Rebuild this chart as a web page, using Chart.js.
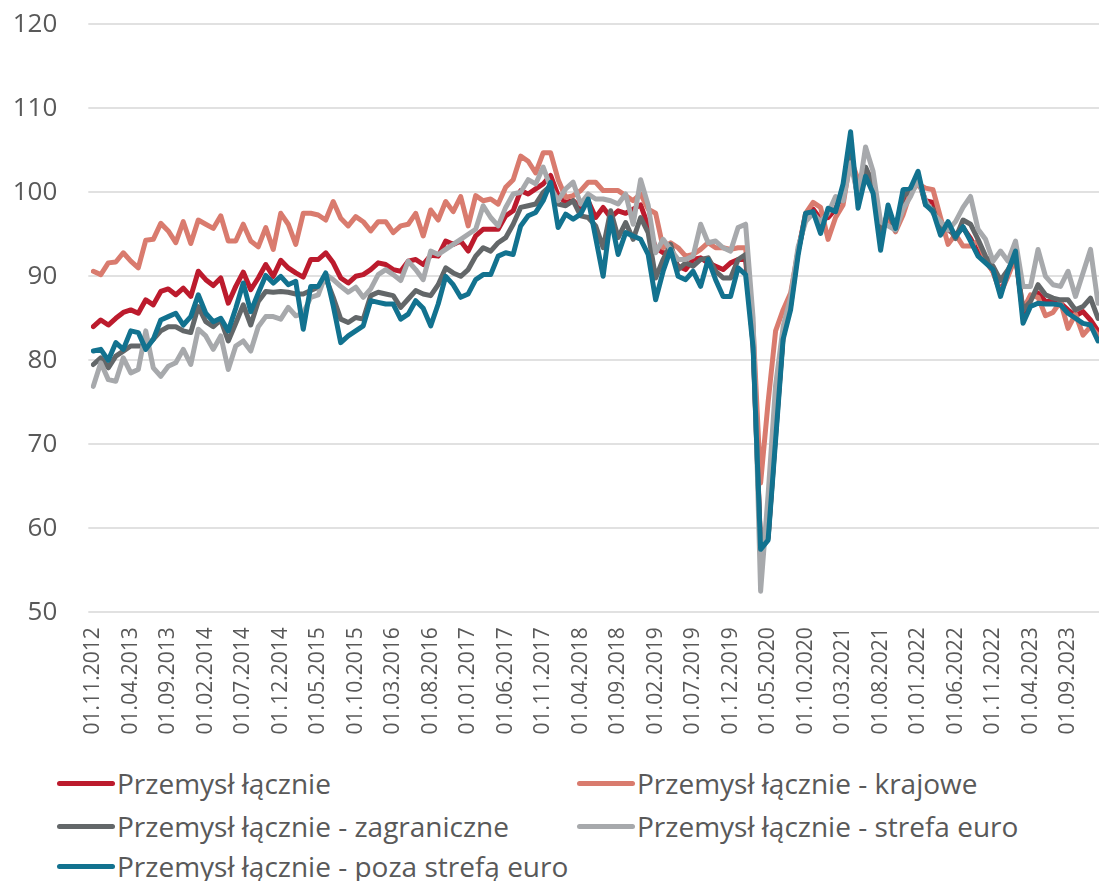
<!DOCTYPE html>
<html><head><meta charset="utf-8">
<script src="https://cdn.jsdelivr.net/npm/chart.js@4.4.1/dist/chart.umd.min.js"></script>
<style>
html,body{margin:0;padding:0;background:#fff;width:1099px;height:881px;overflow:hidden;}
#wrap{position:absolute;left:0;top:0;width:1099px;height:760px;}
#legend{position:absolute;left:0;top:760px;width:1099px;height:121px;font-family:"Open Sans",sans-serif;font-size:28px;color:#595959;}
.li{position:absolute;display:flex;align-items:center;white-space:nowrap;}
.mk{display:inline-block;width:58px;height:5px;border-radius:3px;margin-right:2px;}
</style></head>
<body>
<div id="wrap"><canvas id="c"></canvas></div>
<div id="legend"></div>
<script>
const categories = [
"01.11.2012","01.12.2012",
"01.01.2013","01.02.2013","01.03.2013","01.04.2013","01.05.2013","01.06.2013","01.07.2013","01.08.2013","01.09.2013","01.10.2013","01.11.2013","01.12.2013",
"01.01.2014","01.02.2014","01.03.2014","01.04.2014","01.05.2014","01.06.2014","01.07.2014","01.08.2014","01.09.2014","01.10.2014","01.11.2014","01.12.2014",
"01.01.2015","01.02.2015","01.03.2015","01.04.2015","01.05.2015","01.06.2015","01.07.2015","01.08.2015","01.09.2015","01.10.2015","01.11.2015","01.12.2015",
"01.01.2016","01.02.2016","01.03.2016","01.04.2016","01.05.2016","01.06.2016","01.07.2016","01.08.2016","01.09.2016","01.10.2016","01.11.2016","01.12.2016",
"01.01.2017","01.02.2017","01.03.2017","01.04.2017","01.05.2017","01.06.2017","01.07.2017","01.08.2017","01.09.2017","01.10.2017","01.11.2017","01.12.2017",
"01.01.2018","01.02.2018","01.03.2018","01.04.2018","01.05.2018","01.06.2018","01.07.2018","01.08.2018","01.09.2018","01.10.2018","01.11.2018","01.12.2018",
"01.01.2019","01.02.2019","01.03.2019","01.04.2019","01.05.2019","01.06.2019","01.07.2019","01.08.2019","01.09.2019","01.10.2019","01.11.2019","01.12.2019",
"01.01.2020","01.02.2020","01.03.2020","01.04.2020","01.05.2020","01.06.2020","01.07.2020","01.08.2020","01.09.2020","01.10.2020","01.11.2020","01.12.2020",
"01.01.2021","01.02.2021","01.03.2021","01.04.2021","01.05.2021","01.06.2021","01.07.2021","01.08.2021","01.09.2021","01.10.2021","01.11.2021","01.12.2021",
"01.01.2022","01.02.2022","01.03.2022","01.04.2022","01.05.2022","01.06.2022","01.07.2022","01.08.2022","01.09.2022","01.10.2022","01.11.2022","01.12.2022",
"01.01.2023","01.02.2023","01.03.2023","01.04.2023","01.05.2023","01.06.2023","01.07.2023","01.08.2023","01.09.2023","01.10.2023","01.11.2023","01.12.2023",
"01.01.2024"];

const przemyslLacznie = [
84.0,84.8,84.2,85.0,85.7,86.0,85.6,87.2,86.6,88.2,88.5,87.8,88.6,87.6,90.6,89.6,88.9,89.8,86.8,88.8,
90.5,88.4,89.8,91.4,90.0,91.9,91.0,90.4,89.9,92.0,92.0,92.8,91.6,89.8,89.2,90.0,90.2,90.8,91.6,91.4,
90.8,90.6,91.8,92.0,91.4,92.5,92.4,94.2,93.8,94.2,93.0,94.8,95.6,95.6,95.6,97.2,97.8,100.2,99.8,100.4,
101.0,102.0,99.6,98.8,99.0,98.2,99.0,97.0,98.2,97.0,97.8,97.5,98.0,98.5,96.0,93.4,92.8,92.8,91.2,90.8,
92.0,92.2,91.6,91.2,90.8,91.6,92.0,92.0,82.0,57.8,59.0,71.5,83.0,87.0,93.0,97.3,98.0,96.8,97.0,98.0,
100.0,104.5,99.5,102.5,100.8,95.0,97.5,95.8,99.0,100.5,101.5,99.0,98.8,96.5,95.5,95.0,95.8,94.5,92.8,91.8,
90.6,88.2,90.2,92.5,85.5,87.5,88.0,87.0,87.0,86.8,86.0,85.3,85.8,84.8,83.5];

const krajowe = [
90.6,90.2,91.6,91.7,92.8,91.8,91.0,94.3,94.4,96.3,95.4,94.0,96.5,93.9,96.7,96.2,95.7,97.2,94.2,94.2,
96.2,94.2,93.5,95.8,93.2,97.5,96.2,93.8,97.5,97.5,97.3,96.7,98.9,96.9,96.0,97.1,96.5,95.4,96.5,96.5,
95.2,96.0,96.2,97.5,94.8,97.9,96.7,98.9,97.7,99.5,96.0,99.6,99.0,99.2,98.6,100.6,101.5,104.3,103.7,102.3,
104.7,104.7,101.5,99.4,99.6,100.2,101.2,101.2,100.2,100.2,100.2,99.6,99.0,99.8,98.0,97.5,93.4,94.0,93.4,92.4,
92.6,93.2,94.0,93.4,93.4,93.2,93.4,93.4,84.0,65.4,75.0,83.5,86.0,88.0,93.0,97.5,98.8,98.2,94.4,97.0,
98.5,104.0,101.5,102.5,101.8,95.5,97.0,95.3,97.3,100.0,101.0,100.5,100.3,97.0,93.8,95.0,93.6,93.6,94.2,92.0,
90.5,88.0,90.0,92.3,86.0,87.8,87.5,85.3,85.7,87.0,83.8,85.5,83.0,84.0,83.0];

const zagraniczne = [
79.5,80.3,79.1,80.5,81.1,81.7,81.7,81.7,82.5,83.5,84.0,84.0,83.5,83.3,86.4,84.6,84.0,84.8,82.3,84.4,
86.6,84.2,87.0,88.2,88.1,88.2,88.1,87.9,87.9,88.3,88.7,89.8,87.5,84.9,84.5,85.1,84.9,87.7,88.1,87.9,
87.7,86.3,87.3,88.3,87.9,87.7,89.0,91.0,90.4,90.0,90.8,92.4,93.4,93.0,94.0,94.6,96.2,98.2,98.4,98.6,
100.0,100.8,98.6,98.4,99.0,97.2,97.0,96.0,93.4,97.8,94.6,96.4,94.4,97.0,95.2,89.8,92.0,93.8,90.8,91.6,
91.2,92.0,92.2,90.6,89.8,89.8,92.0,92.6,81.8,57.5,58.8,71.0,82.8,86.5,93.0,97.0,97.5,96.0,97.8,98.0,
100.3,104.8,99.0,103.0,101.0,94.5,97.8,95.5,99.5,100.2,101.8,98.5,98.0,95.5,96.0,94.5,96.7,96.2,94.4,92.4,
91.2,89.5,90.8,92.5,86.0,87.0,89.0,87.8,87.4,87.2,87.2,86.0,86.4,87.4,85.0];

const strefaEuro = [
76.9,79.7,77.7,77.5,80.3,78.5,78.9,83.5,79.1,78.1,79.3,79.7,81.3,79.5,83.7,82.9,81.3,82.9,78.9,81.7,
82.3,81.1,84.0,85.2,85.2,84.9,86.3,85.3,85.6,87.5,87.8,90.2,89.6,88.8,88.1,88.7,87.5,88.5,90.2,90.8,
90.2,89.5,91.8,90.8,89.6,93.0,92.6,93.2,93.8,94.4,95.0,95.6,98.4,97.0,96.0,98.2,99.8,100.0,101.5,101.0,
103.0,100.6,99.0,100.4,101.2,98.6,99.8,99.2,99.2,99.0,98.6,99.8,96.2,101.5,98.5,92.8,94.4,93.2,92.0,92.0,
92.4,96.2,94.0,94.2,93.4,93.0,95.8,96.2,85.0,52.5,64.0,77.0,84.0,87.5,93.5,96.5,97.5,96.5,97.5,99.5,
99.0,103.5,99.5,105.4,102.5,96.5,96.0,95.5,98.0,99.5,101.5,99.0,97.5,96.5,95.5,96.5,98.2,99.5,95.6,94.4,
91.8,93.0,91.8,94.2,88.8,88.8,93.2,90.0,89.0,88.8,90.6,87.6,90.4,93.2,86.8];

const pozaStrefa = [
81.1,81.3,80.0,82.1,81.3,83.5,83.3,81.3,82.5,84.8,85.2,85.6,84.2,85.2,87.8,85.6,84.6,85.0,83.5,86.2,
89.2,85.8,88.0,90.1,89.2,90.0,89.0,89.4,83.7,88.8,88.8,90.4,86.5,82.1,82.9,83.5,84.1,87.1,86.9,86.7,
86.7,84.9,85.5,87.1,86.2,84.1,86.7,90.0,89.0,87.5,87.9,89.6,90.2,90.2,92.4,92.8,92.6,96.0,97.2,97.6,
99.0,101.2,95.8,97.4,96.8,97.4,99.2,94.6,90.0,97.0,92.6,95.2,94.8,94.4,92.6,87.2,90.6,93.2,90.0,89.6,
90.6,88.8,92.0,89.6,87.6,87.6,91.0,90.2,81.5,57.5,58.6,70.5,82.5,86.0,92.5,97.5,97.7,95.1,98.1,97.7,
101.0,107.2,98.1,101.9,99.9,93.1,98.5,95.7,100.3,100.5,102.5,98.5,97.7,94.9,96.5,94.7,95.9,94.2,92.4,91.6,
90.8,87.6,90.6,93.0,84.4,86.4,86.8,86.7,86.7,86.6,85.6,85.0,84.4,84.2,82.3];

const seriesNames = ["Przemysł łącznie","Przemysł łącznie - krajowe","Przemysł łącznie - zagraniczne","Przemysł łącznie - strefa euro","Przemysł łącznie - poza strefą euro"];
const seriesColors = ["#BC1B2D","#D97B6E","#636769","#A7A9AC","#12728F"];
const seriesData = [przemyslLacznie, krajowe, zagraniczne, strefaEuro, pozaStrefa];
const yTicks = [50,60,70,80,90,100,110,120];

const FONT = "'Open Sans', sans-serif";
const TXT = "#595959";

const datasets = seriesData.map((d, i) => ({
  label: seriesNames[i],
  data: d,
  borderColor: seriesColors[i],
  backgroundColor: seriesColors[i],
  borderWidth: 5,
  pointRadius: 0,
  tension: 0,
  fill: false,
  borderJoinStyle: 'round',
  borderCapStyle: 'round',
  order: 5 - i
}));

function zeroPad(s) { s.paddingLeft = 0; s.paddingRight = 0; s.paddingTop = 0; s.paddingBottom = 0; }

// horizontal gridlines drawn from the y scale ticks, extended slightly left of the first category
const gridPlugin = {
  id: 'wideGrid',
  beforeDatasetsDraw(chart) {
    const y = chart.scales.y, ctx = chart.ctx, a = chart.chartArea;
    ctx.save();
    ctx.strokeStyle = '#E1E1E1';
    ctx.lineWidth = 2;
    y.ticks.forEach(t => {
      const py = Math.round(y.getPixelForValue(t.value));
      ctx.beginPath();
      ctx.moveTo(a.left - 5, py);
      ctx.lineTo(a.right + 1, py);
      ctx.stroke();
    });
    ctx.restore();
  }
};

new Chart(document.getElementById('c'), {
  type: 'line',
  data: { labels: categories, datasets },
  plugins: [gridPlugin],
  options: {
    responsive: true,
    maintainAspectRatio: false,
    animation: false,
    layout: { padding: { top: 24.3, right: 1, left: 0, bottom: 0 } },
    plugins: { legend: { display: false }, tooltip: { enabled: false } },
    scales: {
      x: {
        type: 'category',
        offset: false,
        grid: { display: false, drawTicks: false },
        border: { display: false },
        ticks: {
          autoSkip: false, maxRotation: 90, minRotation: 90, padding: 15,
          color: TXT, font: { family: FONT, size: 21 },
          callback: (v, idx) => (idx % 5 === 0 ? categories[idx] : '')
        },
        afterFit: s => { s.height = 760 - 612.3; zeroPad(s); }
      },
      y: {
        min: yTicks[0], max: yTicks[yTicks.length - 1],
        afterBuildTicks: s => { s.ticks = yTicks.map(v => ({ value: v })); },
        grid: { display: false, drawTicks: false },
        border: { display: false },
        ticks: { color: TXT, font: { family: FONT, size: 26 }, padding: 36 },
        afterFit: s => { s.width = 93.3; zeroPad(s); }
      }
    }
  }
});

// HTML legend built from series names/colours
const legendPos = [[57,783],[577,783],[57,826],[577,826],[57,866]];
const lg = document.getElementById('legend');
seriesNames.forEach((n, i) => {
  const el = document.createElement('div');
  el.className = 'li';
  el.style.left = legendPos[i][0] + 'px';
  el.style.top = (legendPos[i][1] - 760 - 20) + 'px';
  el.style.height = '40px';
  const mk = document.createElement('span');
  mk.className = 'mk';
  mk.style.background = seriesColors[i];
  const tx = document.createElement('span');
  tx.textContent = n;
  el.appendChild(mk); el.appendChild(tx);
  lg.appendChild(el);
});
</script>
</body></html>
